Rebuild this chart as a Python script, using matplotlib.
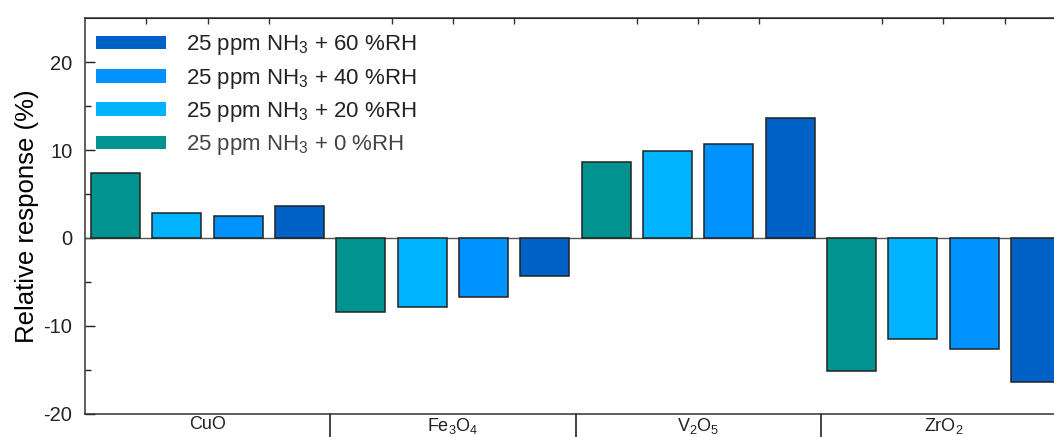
import numpy as np
import matplotlib
matplotlib.use("Agg")
import matplotlib.pyplot as plt
from matplotlib.patches import Patch

plt.rcParams['font.family'] = ['Liberation Sans', 'DejaVu Sans']
plt.rcParams['mathtext.fontset'] = 'custom'
plt.rcParams['mathtext.rm'] = 'Liberation Sans'
plt.rcParams['mathtext.it'] = 'Liberation Sans'
plt.rcParams['axes.unicode_minus'] = False

# data
materials = ['CuO', r'Fe$_3$O$_4$', r'V$_2$O$_5$', r'ZrO$_2$']
rh_0 = [7.35, -8.45, 8.7, -15.1]
rh_20 = [2.85, -7.85, 9.85, -11.5]
rh_40 = [2.55, -6.7, 10.75, -12.65]
rh_60 = [3.6, -4.35, 13.65, -16.35]
series = [rh_0, rh_20, rh_40, rh_60]
labels = [r'25 ppm NH$_3$ + 0 %RH', r'25 ppm NH$_3$ + 20 %RH',
          r'25 ppm NH$_3$ + 40 %RH', r'25 ppm NH$_3$ + 60 %RH']
colors = ['#00938F', '#00B3FF', '#0092FF', '#0061C7']

fig = plt.figure(figsize=(10.54, 4.37), dpi=100)
W, H = 1054, 437
ax = fig.add_axes([85 / W, 1 - 413.7 / H, 981 / W, (413.7 - 18.3) / H])

n = len(series)
for i, vals in enumerate(series):
    x = np.arange(len(materials)) * n + i + 0.5
    ax.bar(x, vals, width=0.8, color=colors[i], edgecolor='#222222', linewidth=1.1, zorder=3)

ax.axhline(0, color='#555555', linewidth=1.0, zorder=2)

ax.set_xlim(0, n * len(materials))
ax.set_ylim(-20, 25)
ax.set_yticks([-20, -10, 0, 10, 20])
ax.set_yticks([-15, -5, 5, 15], minor=True)
ax.tick_params(axis='y', which='major', direction='in', length=7, width=1, labelsize=14.5,
               colors='#222222', pad=9)
ax.tick_params(axis='y', which='minor', direction='in', length=4, width=1, colors='#222222')
ax.set_ylabel('Relative response (%)', fontsize=18.5, labelpad=3)

# group labels along the bottom
ax.set_xticks(np.arange(len(materials)) * n + n / 2)
ax.set_xticklabels(materials)
ax.tick_params(axis='x', which='major', length=0, labelsize=13, pad=1.5, colors='#222222')

# tick marks on the top spine between bars
sec = ax.secondary_xaxis('top')
sec.set_xticks([k for k in range(1, n * len(materials)) if k % n != 0])
sec.set_xticklabels([])
sec.tick_params(direction='in', length=4, width=1, colors='#333333')

for k in range(1, len(materials)):
    ax.plot([k * n, k * n], [0, -0.1], transform=ax.get_xaxis_transform(),
            color='#222222', linewidth=1.2, clip_on=False)

for s in ['top', 'bottom', 'left', 'right']:
    ax.spines[s].set_color('#333333')
    ax.spines[s].set_linewidth(1.1)

handles = [Patch(facecolor=colors[i], edgecolor='none') for i in range(n)][::-1]
leg = ax.legend(handles, labels[::-1], loc='upper left', bbox_to_anchor=(0.0, 0.99),
                frameon=False, fontsize=16, handlelength=3.15, handleheight=0.55,
                handletextpad=0.9, labelspacing=0.42, borderaxespad=0.2, borderpad=0.3)
for t in leg.get_texts():
    t.set_color('#222222')
leg.get_texts()[-1].set_color('#444444')

fig.savefig('out.png', dpi=100)
